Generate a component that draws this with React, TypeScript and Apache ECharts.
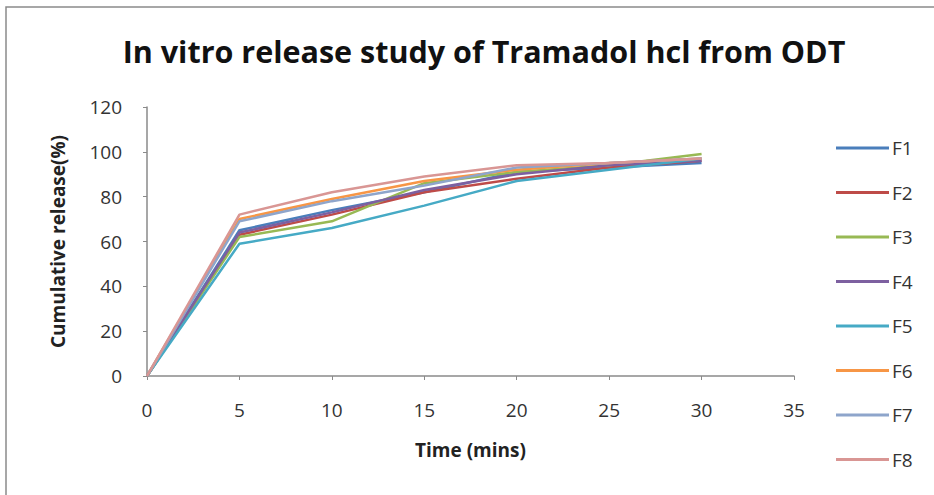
import React, { useEffect, useRef } from "react";
import * as echarts from "echarts";

const times = [0, 5, 10, 15, 20, 25, 30];
const seriesNames = ["F1", "F2", "F3", "F4", "F5", "F6", "F7", "F8"];
const F1 = [0, 65, 74, 82, 91, 93, 95];
const F2 = [0, 63, 72, 82, 88, 93, 96];
const F3 = [0, 62, 69, 86, 91, 94, 99];
const F4 = [0, 64, 73, 83, 90, 94, 96];
const F5 = [0, 59, 66, 76, 87, 92, 97];
const F6 = [0, 70, 79, 87, 92, 95, 97];
const F7 = [0, 69, 78, 85, 93, 95, 97];
const F8 = [0, 72, 82, 89, 94, 95, 97];
const values = [F1, F2, F3, F4, F5, F6, F7, F8];
const colors = ["#4A7EBB", "#BE4B48", "#98B954", "#7D60A0", "#46AAC5", "#F79646", "#8EA5CB", "#D99694"];

export default function App() {
  const ref = useRef<HTMLDivElement>(null);
  useEffect(() => {
    document.body.style.margin = "0";
    const chart = echarts.init(ref.current!, null, { renderer: "svg" });
    chart.setOption({
      animation: false,
      backgroundColor: "#ffffff",
      title: {
        text: "In vitro release study of Tramadol hcl from ODT",
        left: 479,
        top: 30,
        textAlign: "center",
        textStyle: { fontFamily: "Open Sans", fontWeight: "bold", fontSize: 30.5, color: "#111" },
      },
      graphic: [
        {
          type: "rect",
          shape: { x: 6, y: 7, width: 940, height: 500 },
          style: { fill: "none", stroke: "#8a8a8a", lineWidth: 1.5 },
          silent: true,
        },
      ],
      legend: {
        orient: "vertical",
        left: 836,
        top: 138,
        padding: 0,
        icon: "rect",
        itemWidth: 53,
        itemHeight: 3,
        itemGap: 24.5,
        textStyle: { fontFamily: "Open Sans", fontSize: 19, color: "#333", padding: [0, 0, 0, -2], lineHeight: 20 },
        data: seriesNames,
      },
      grid: { left: 147, right: 140, top: 107, bottom: 119, containLabel: false },
      xAxis: {
        type: "value",
        min: 0,
        max: 35,
        interval: 5,
        name: "Time (mins)",
        nameLocation: "middle",
        nameGap: 64,
        nameTextStyle: { fontFamily: "Open Sans", fontWeight: "bold", fontSize: 19, color: "#222" },
        axisLine: { lineStyle: { color: "#8a8a8a", width: 1.5 } },
        axisTick: { show: true, length: 4, lineStyle: { color: "#8a8a8a" } },
        axisLabel: { fontFamily: "Open Sans", fontSize: 19, color: "#333", margin: 24 },
        splitLine: { show: false },
      },
      yAxis: {
        type: "value",
        min: 0,
        max: 120,
        interval: 20,
        name: "Cumulative release(%)",
        nameLocation: "middle",
        nameGap: 80,
        nameTextStyle: { fontFamily: "Open Sans", fontWeight: "bold", fontSize: 19, color: "#222" },
        axisLine: { show: true, lineStyle: { color: "#8a8a8a", width: 1.5 } },
        axisTick: { show: true, length: 4, lineStyle: { color: "#8a8a8a" } },
        axisLabel: { fontFamily: "Open Sans", fontSize: 19, color: "#333", margin: 25 },
        splitLine: { show: false },
      },
      series: seriesNames.map((name, i) => ({
        name,
        type: "line",
        data: times.map((t, j) => [t, values[i][j]]),
        showSymbol: false,
        symbol: "none",
        color: colors[i],
        lineStyle: { color: colors[i], width: 2.5 },
      })),
    });
    return () => chart.dispose();
  }, []);
  return <div ref={ref} style={{ width: 934, height: 495 }} />;
}
